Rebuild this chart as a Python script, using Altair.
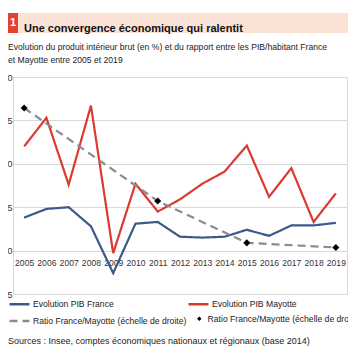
import altair as alt
import pandas as pd

# ---------------- data ----------------
years = ["2005", "2006", "2007", "2008", "2009", "2010", "2011", "2012",
         "2013", "2014", "2015", "2016", "2017", "2018", "2019"]
pib_france = [3.8, 4.8, 5.0, 2.8, -2.6, 3.1, 3.3, 1.6, 1.5, 1.6, 2.4, 1.7, 2.9, 2.9, 3.2]
pib_mayotte = [12.0, 15.3, 7.6, 16.7, -0.3, 7.7, 4.5, 5.9, 7.7, 9.1, 12.1, 6.2, 9.5, 3.3, 6.6]
ratio_years = ["2005", "2011", "2015", "2019"]
ratio_values = [8.0, 5.0, 3.65, 3.5]
left_ticks = [-5, 0, 5, 10, 15, 20]
right_ticks = [2, 3, 4, 5, 6, 7, 8, 9]

title_num = "1"
title_text = "Une convergence économique qui ralentit"
subtitle_lines = [
    "Evolution du produit intérieur brut (en %) et du rapport entre les PIB/habitant  France",
    "et Mayotte entre 2005 et 2019",
]
source_text = "Sources : Insee, comptes économiques  nationaux et régionaux (base 2014)"

L_FR = "Evolution PIB France"
L_MY = "Evolution  PIB Mayotte"
L_RL = "Ratio France/Mayotte (échelle de droite)"
L_RP = "Ratio France/Mayotte (échelle de droite)"

# ---------------- styling ----------------
FONT = "Liberation Sans"
BLUE = "#3b5a8a"
RED = "#dc3a2e"
GRAY = "#8c8c8c"
GRID = "#d9d9d9"

df_pib = pd.DataFrame({
    "year": years * 2,
    "serie": [L_FR] * len(years) + [L_MY] * len(years),
    "value": pib_france + pib_mayotte,
})
df_ratio_line = pd.DataFrame({"year": ratio_years, "ratio": ratio_values, "serie": L_RL})
df_ratio_pts = pd.DataFrame({"year": ratio_years, "ratio": ratio_values, "serie": L_RP})

x_enc = alt.X(
    "year:O", title=None,
    axis=alt.Axis(offset=-43, labelAngle=0, ticks=False, domain=False, grid=False,
                  labelPadding=7, labelFont=FONT, labelFontSize=8.6, labelColor="#333",
                  labelOverlap=False),
)

line_domain = [L_FR, L_MY, L_RL]
leg1 = alt.Legend(
    title=None, orient="none", direction="horizontal", legendX=-5, legendY=215.5,
    columns=2, columnPadding=-5, rowPadding=-1, values=line_domain,
    symbolType="stroke", symbolSize=400, symbolStrokeWidth=2.5,
    labelFont=FONT, labelFontSize=8.6, labelColor="#222", labelOffset=2, labelLimit=400,
)
color_enc = alt.Color("serie:N", scale=alt.Scale(domain=line_domain, range=[BLUE, RED, GRAY]), legend=leg1)
dash_enc = alt.StrokeDash("serie:N", scale=alt.Scale(domain=line_domain, range=[[1, 0], [1, 0], [8, 5]]), legend=leg1)

pib_lines = alt.Chart(df_pib).mark_line(strokeWidth=2.2).encode(
    x=x_enc,
    y=alt.Y("value:Q", scale=alt.Scale(domain=[-5, 20], nice=False),
            axis=alt.Axis(values=left_ticks, title=None, grid=True, gridColor=GRID,
                          ticks=False, domain=False, labelPadding=1, labelFont=FONT,
                          labelFontSize=9, labelColor="#333")),
    color=color_enc,
    strokeDash=dash_enc,
)

right_scale = alt.Scale(domain=[2, 9], nice=False)
ratio_line = alt.Chart(df_ratio_line).mark_line(strokeWidth=2.2).encode(
    x=x_enc,
    y=alt.Y("ratio:Q", scale=right_scale,
            axis=alt.Axis(orient="right", values=right_ticks, title=None, grid=False,
                          ticks=False, domain=False, labelPadding=3, labelFont=FONT,
                          labelFontSize=9, labelColor="#333")),
    color=color_enc,
    strokeDash=dash_enc,
)

leg2 = alt.Legend(
    title=None, orient="none", legendX=182, legendY=237.5, symbolSize=20,
    symbolFillColor="black", symbolStrokeColor="black", labelFont=FONT,
    labelFontSize=8.6, labelColor="#222", labelOffset=4, labelLimit=400,
)
ratio_pts = alt.Chart(df_ratio_pts).mark_point(filled=True, size=50, color="black", opacity=1).encode(
    x=x_enc,
    y=alt.Y("ratio:Q", scale=right_scale, axis=None),
    shape=alt.Shape("serie:N", scale=alt.Scale(domain=[L_RP], range=["diamond"]), legend=leg2),
)

one = alt.Data(values=[{}])
band = alt.Chart(one).mark_rect(color="#fae3d6").encode(
    x=alt.value(-5), x2=alt.value(343), y=alt.value(-64), y2=alt.value(-44))
red_sq = alt.Chart(one).mark_rect(color="#e2412b").encode(
    x=alt.value(-5), x2=alt.value(5), y=alt.value(-64), y2=alt.value(-44))
num = alt.Chart(one).mark_text(text=title_num, color="white", fontWeight="bold", fontSize=11,
                               font=FONT, align="center", baseline="middle").encode(
    x=alt.value(0), y=alt.value(-54))
title = alt.Chart(one).mark_text(text=title_text, color="#111", fontWeight="bold", fontSize=11,
                                 font=FONT, align="left", baseline="alphabetic").encode(
    x=alt.value(11), y=alt.value(-45.5))
subtitle = alt.Chart(one).mark_text(text=subtitle_lines, color="#222", fontSize=8.6, font=FONT,
                                    align="left", baseline="alphabetic", lineHeight=13.5).encode(
    x=alt.value(-5), y=alt.value(-27.5))
source = alt.Chart(one).mark_text(text=source_text, color="#222", fontSize=9, font=FONT,
                                  align="left", baseline="alphabetic").encode(
    x=alt.value(-5), y=alt.value(267))

chart = alt.layer(
    band, red_sq, num, title, subtitle, source, pib_lines, ratio_line, ratio_pts
).resolve_scale(y="independent").properties(
    width=334, height=217,
    autosize=alt.AutoSizeParams(type="none"),
    padding={"left": 5, "top": 69, "right": 1, "bottom": 56},
    background="white",
).configure_view(stroke=GRID)

chart.save("out.html", embed_options={"renderer": "svg", "actions": False})
